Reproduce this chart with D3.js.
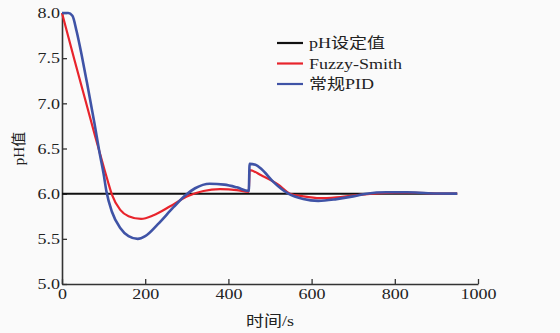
<!DOCTYPE html>
<html>
<head>
<meta charset="utf-8">
<script src="https://cdn.jsdelivr.net/npm/d3@7"></script>
<style>
  body { margin: 0; background: #fafafa; }
  svg { display: block; background: #fafafa; }
  text { font-family: "Liberation Serif", "Noto Sans CJK SC", serif; fill: #222; }
</style>
</head>
<body>
<div id="chart"></div>
<script>
// time (s) and pH readings taken off the figure
var setTime = [0, 950];
var setValue = [6.0, 6.0];

var fuzzyTime = [0, 30, 60, 80, 100, 110, 120, 140, 160, 190, 220, 260, 300, 340, 380, 420, 449,
                 451, 480, 520, 548, 580, 620, 660, 700, 750, 800, 850, 900, 950];
var fuzzyValue = [8.00, 7.48, 6.97, 6.63, 6.30, 6.14, 5.99, 5.82, 5.75, 5.72, 5.76, 5.86, 5.97, 6.03, 6.05, 6.04, 6.02,
                  6.26, 6.20, 6.10, 6.00, 5.97, 5.95, 5.96, 5.98, 6.00, 6.01, 6.01, 6.00, 6.00];

var pidTime = [0, 15, 25, 35, 47, 60, 78, 90, 100, 107, 120, 140, 160, 182, 200, 230, 268, 296, 320, 355,
               390, 420, 449, 451, 465, 480, 508, 544, 580, 616, 660, 700, 732, 780, 830, 880, 950];
var pidValue = [8.00, 8.00, 7.97, 7.80, 7.54, 7.23, 6.78, 6.46, 6.22, 6.02, 5.80, 5.62, 5.53, 5.50, 5.53, 5.66, 5.85, 5.98, 6.06, 6.11,
                6.10, 6.07, 6.03, 6.33, 6.32, 6.27, 6.13, 6.00, 5.94, 5.92, 5.94, 5.97, 6.00, 6.015, 6.015, 6.005, 6.00];

var xTicks = [0, 200, 400, 600, 800, 1000];
var yTicks = [5.0, 5.5, 6.0, 6.5, 7.0, 7.5, 8.0];

var seriesNames = ["pH设定值", "Fuzzy-Smith", "常规PID"];
var seriesColors = ["#111111", "#e8242c", "#3f53a6"];

var width = 560;
var height = 333;
var margin = { top: 13, right: 82, bottom: 49, left: 62 };
var stretch = 1.2;   // the original figure is a bit wider than tall in its glyphs

var svg = d3.select("#chart").append("svg")
    .attr("width", width)
    .attr("height", height);

var x = d3.scaleLinear().domain([0, 1000]).range([margin.left, width - margin.right]);
var y = d3.scaleLinear().domain([5, 8]).range([height - margin.bottom, margin.top]);

function widen(sel) {
    sel.each(function () {
        var w = this.getComputedTextLength();
        d3.select(this).attr("textLength", w * stretch).attr("lengthAdjust", "spacingAndGlyphs");
    });
}

// axes
var xAxis = svg.append("g")
    .attr("transform", "translate(0," + y(5) + ")")
    .call(d3.axisBottom(x).tickValues(xTicks).tickFormat(d3.format("d")).tickSizeInner(-5).tickSizeOuter(0).tickPadding(5));
var yAxis = svg.append("g")
    .attr("transform", "translate(" + x(0) + ",0)")
    .call(d3.axisLeft(y).tickValues(yTicks).tickFormat(d3.format(".1f")).tickSizeInner(-5).tickSizeOuter(0).tickPadding(2));

[xAxis, yAxis].forEach(function (a) {
    a.select(".domain").attr("stroke", "#333").attr("stroke-width", 1.6);
    a.selectAll(".tick line").attr("stroke", "#333").attr("stroke-width", 1.3);
    a.selectAll(".tick text").attr("font-size", 15).attr("fill", "#222")
        .style("font-family", "'Liberation Serif', serif");
    widen(a.selectAll(".tick text"));
});
xAxis.selectAll(".tick text").attr("dy", "0.68em");

// axis titles
svg.append("text")
    .attr("x", (x(0) + x(1000)) / 2)
    .attr("y", 326)
    .attr("text-anchor", "middle")
    .attr("font-size", 15)
    .text("时间/s")
    .call(widen);

svg.append("text")
    .attr("transform", "translate(24," + ((y(5) + y(8)) / 2) + ") rotate(-90)")
    .attr("text-anchor", "middle")
    .attr("font-size", 15)
    .text("pH值");

// lines
var line = d3.line()
    .x(function (d) { return x(d[0]); })
    .y(function (d) { return y(d[1]); })
    .curve(d3.curveMonotoneX);

var series = [
    d3.zip(setTime, setValue),
    d3.zip(fuzzyTime, fuzzyValue),
    d3.zip(pidTime, pidValue)
];
var widths = [2, 2.2, 2.6];

svg.selectAll(".series")
    .data(series)
    .enter()
    .append("path")
    .attr("class", "series")
    .attr("fill", "none")
    .attr("stroke", function (d, i) { return seriesColors[i]; })
    .attr("stroke-width", function (d, i) { return widths[i]; })
    .attr("stroke-linejoin", "round")
    .attr("d", line);

// legend
var legend = svg.append("g").attr("transform", "translate(277,43)");
var rows = legend.selectAll("g")
    .data(seriesNames)
    .enter()
    .append("g")
    .attr("transform", function (d, i) { return "translate(0," + (i * 20.5) + ")"; });

rows.append("line")
    .attr("x1", 0).attr("x2", 26)
    .attr("stroke", function (d, i) { return seriesColors[i]; })
    .attr("stroke-width", 2.2);

rows.append("text")
    .attr("x", 32)
    .attr("dy", "0.35em")
    .attr("font-size", 15)
    .text(function (d) { return d; })
    .call(widen);
</script>
</body>
</html>
